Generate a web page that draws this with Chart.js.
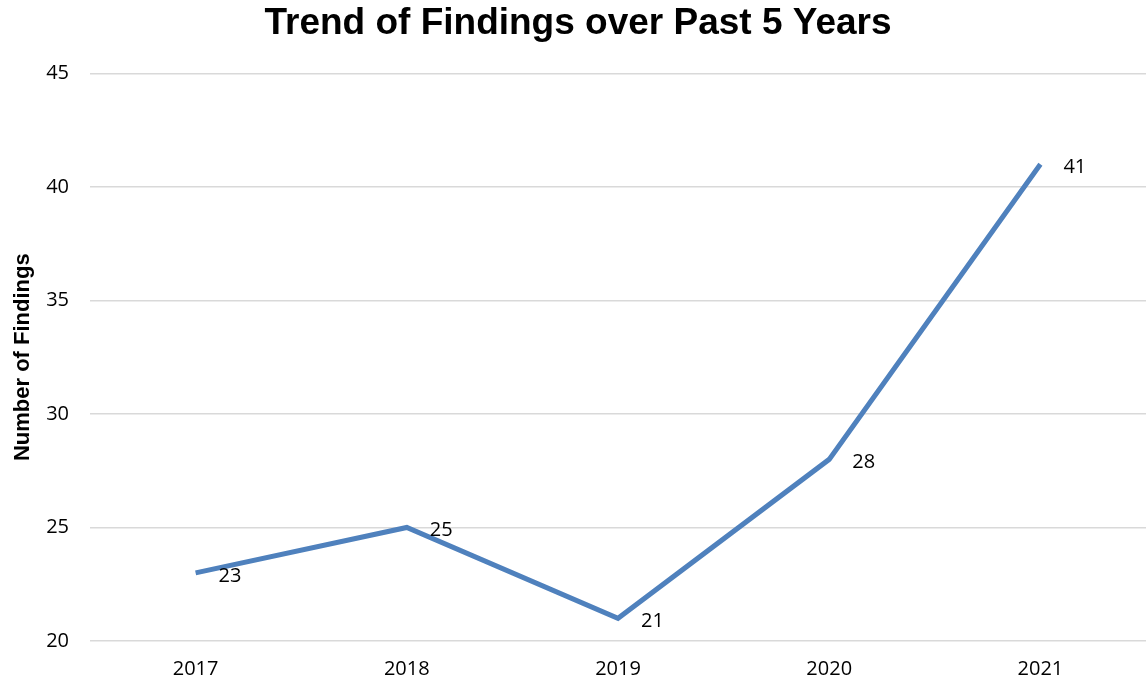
<!DOCTYPE html>
<html>
<head>
<meta charset="utf-8">
<script src="https://cdn.jsdelivr.net/npm/chart.js@4.4.0/dist/chart.umd.min.js"></script>
<style>
  html, body { margin: 0; padding: 0; background: #fff; }
  #wrap { width: 1146px; height: 688px; }
</style>
</head>
<body>
<div id="wrap"><canvas id="chart"></canvas></div>
<script>
const years = ['2017', '2018', '2019', '2020', '2021'];
const findings = [23, 25, 21, 28, 41];
const yTicks = [20, 25, 30, 35, 40, 45];

// draw the value next to each point, like the original labels
const pointLabels = {
  id: 'pointLabels',
  afterDatasetsDraw(chart) {
    const ctx = chart.ctx;
    const meta = chart.getDatasetMeta(0);
    ctx.save();
    ctx.font = '20px "Open Sans"';
    ctx.fillStyle = '#000';
    ctx.textAlign = 'left';
    ctx.textBaseline = 'middle';
    meta.data.forEach((pt, i) => {
      ctx.fillText(String(findings[i]), pt.x + 23, pt.y + 3);
    });
    ctx.restore();
  }
};

new Chart(document.getElementById('chart'), {
  type: 'line',
  data: {
    labels: years,
    datasets: [{
      label: 'Findings',
      data: findings,
      borderColor: '#4f81bd',
      borderWidth: 5,
      pointRadius: 0,
      fill: false,
      tension: 0
    }]
  },
  options: {
    responsive: true,
    maintainAspectRatio: false,
    animation: false,
    layout: { padding: { left: 10, right: 0, top: 2, bottom: 0 } },
    plugins: {
      legend: { display: false },
      tooltip: { enabled: false },
      title: {
        display: true,
        text: 'Trend of Findings over Past 5 Years',
        color: '#000',
        font: { family: '"Liberation Sans", Arial', size: 37, weight: 'bold' },
        padding: { top: 0, bottom: 27 }
      }
    },
    scales: {
      x: {
        offset: true,
        afterFit(axis) { axis.height = 47; },
        grid: { display: false },
        border: { display: false },
        ticks: { color: '#000', font: { family: '"Open Sans"', size: 20 }, padding: 8 }
      },
      y: {
        min: 20,
        max: 45,
        afterBuildTicks(axis) { axis.ticks = yTicks.map(v => ({ value: v })); },
        afterFit(axis) { axis.width = 80; },
        grid: { color: '#d9d9d9', lineWidth: 1.5, drawTicks: false },
        border: { display: false },
        ticks: { color: '#000', font: { family: '"Open Sans"', size: 20 }, padding: 21 },
        title: {
          display: true,
          text: 'Number of Findings',
          color: '#000',
          font: { family: '"Liberation Sans", Arial', size: 22, weight: 'bold' },
          padding: { top: 0, bottom: 0 }
        }
      }
    }
  },
  plugins: [pointLabels]
});
</script>
</body>
</html>
